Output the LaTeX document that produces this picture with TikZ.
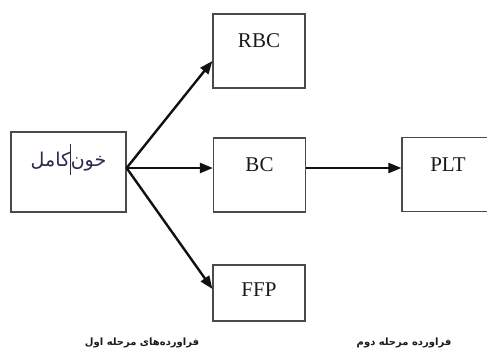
\documentclass[tikz,border=0pt]{standalone}
\usepackage{fontspec}
\setmainfont{Liberation Serif}
\newfontfamily\arabicfont[Script=Arabic]{DejaVu Sans}
\TeXXeTstate=1
\usetikzlibrary{arrows.meta, positioning, calc}
\definecolor{boxLine}{HTML}{4A4A4A}
\definecolor{arrowBlack}{HTML}{111111}
\definecolor{capText}{HTML}{1A1A1A}
\definecolor{srcText}{HTML}{2A2A4A}

\begin{document}
\begin{tikzpicture}[
  x=1pt, y=-1pt,
  font=\fontsize{21}{24}\selectfont,
  box/.style  ={draw=boxLine, line width=1.2pt, inner sep=0pt, minimum width=92pt, text=capText},
  tall/.style ={box, text height=34pt, text depth=40pt},
  short/.style={box, text height=32pt, text depth=24pt},
  whole/.style={box, minimum width=115pt, text height=35pt, text depth=45pt, text=srcText, font=\arabicfont\fontsize{19}{22}\selectfont},
  stage/.style={font=\arabicfont\bfseries\fontsize{10}{12}\selectfont, inner sep=0pt, text=capText},
  flow/.style ={-{Triangle[length=13pt, width=10pt]}, draw=arrowBlack, line width=2.4pt},
]
\clip (0,0) rectangle (487,352);
% ----- Source -----
\node[whole] (blood) at (68.5,172) {\beginR خون\rule[-0.4em]{0.7pt}{1.6em}کامل\endR};
\coordinate (hub) at ([yshift=4pt]blood.east);
% ----- First stage -----
\node[tall]  (rbc) at (259,51)    {RBC};
\node[tall]  (bc)  at (259.5,175) {BC};
\node[short] (ffp) at (259,293)   {FFP};
\draw[flow] (hub) -- ([yshift=-10pt]rbc.west);
\draw[flow] (hub) -- (hub -| bc.west);
\draw[flow] (hub) -- ([yshift=4pt]ffp.west);
% ----- Second stage -----
\node[tall]  (plt) at (448,174.5) {PLT};
\draw[flow] (hub -| bc.east) -- (hub -| plt.west);
% ----- Captions -----
\node[stage] (first)  at (142,343) {\beginR فراورده‌های مرحله اول\endR};
\node[stage] (second) at (404,343) {\beginR فراورده مرحله دوم\endR};
\end{tikzpicture}
\end{document}
